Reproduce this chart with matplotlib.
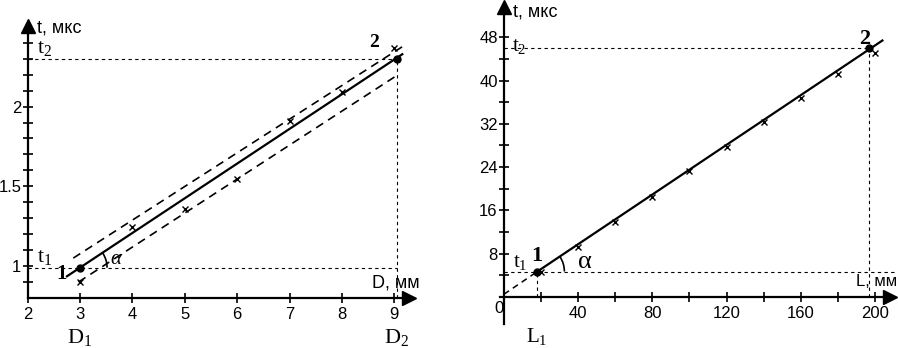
import numpy as np
import matplotlib.pyplot as plt
import matplotlib.patches as mpatches
import matplotlib.transforms as mtransforms

plt.rcParams['font.family'] = 'Liberation Sans'
plt.rcParams['mathtext.fontset'] = 'custom'
plt.rcParams['mathtext.rm'] = 'Liberation Serif'
plt.rcParams['mathtext.it'] = 'Liberation Serif:italic'
plt.rcParams['mathtext.bf'] = 'Liberation Serif:bold'

# ---- left chart: t vs D ----
d_ticks = [2, 3, 4, 5, 6, 7, 8, 9]
t_ticks_d = [0.9, 1.0, 1.1, 1.2, 1.3, 1.4, 1.5, 1.6, 1.7, 1.8, 1.9, 2.0, 2.1, 2.2, 2.3, 2.4]
t_labels_d = ['', '1', '', '', '', '', '1.5', '', '', '', '', '2', '', '', '', '']
d_meas = [3, 4, 5, 6, 7, 8, 9]
t_meas_d = [0.90, 1.245, 1.36, 1.545, 1.91, 2.09, 2.37]
d_pts = [3.0, 9.04]
t_pts_d = [0.99, 2.30]
fit_d = [2.75, 9.15]
fit_t_d = [0.936, 2.328]
upper_d = [2.87, 9.15]
upper_t = [1.05, 2.375]
lower_d = [2.97, 9.07]
lower_t = [0.90, 2.20]

# ---- right chart: t vs L ----
l_ticks = [20, 40, 60, 80, 100, 120, 140, 160, 180, 200]
l_labels = ['', '40', '', '80', '', '120', '', '160', '', '200']
t_ticks_l = [4, 8, 12, 16, 20, 24, 28, 32, 36, 40, 44, 48]
t_labels_l = ['', '8', '', '16', '', '24', '', '32', '', '40', '', '48']
l_meas = [20, 40, 60, 80, 100, 120, 140, 160, 180, 200]
t_meas_l = [4.7, 9.3, 13.8, 18.5, 23.2, 27.8, 32.4, 36.8, 41.3, 45.1]
l_pts = [18.0, 197.0]
t_pts_l = [4.7, 46.0]
fit_l = [18.0, 204.0]
fit_t_l = [4.7, 47.4]
ext_l = [0.0, 18.0]
ext_t = [0.5, 4.7]

thin = dict(color='black', lw=0.8, ls=(0, (3, 3)))
serif = 'Liberation Serif'


def setup(ax, xlim, ylim, x0, y0):
    ax.set_xlim(xlim)
    ax.set_ylim(ylim)
    ax.patch.set_visible(False)
    ax.spines[['top', 'right']].set_visible(False)
    ax.spines['left'].set_position(('data', x0))
    ax.spines['bottom'].set_position(('data', y0))
    ax.spines[['left', 'bottom']].set_linewidth(1.6)
    ax.tick_params(direction='inout', length=7, width=1.2, labelsize=12)
    ax.tick_params(axis='x', pad=3)
    ax.tick_params(axis='y', pad=1)
    # arrow heads at the axis ends
    ax.plot(1, y0, '>k', ms=10, transform=ax.get_yaxis_transform(), clip_on=False)
    ax.plot(x0, 1, '^k', ms=10, transform=ax.get_xaxis_transform(), clip_on=False)


def angle_arc(ax, x, y, x2, y2, r=27):
    p0 = ax.transData.transform((x, y))
    p1 = ax.transData.transform((x2, y2))
    ang = np.degrees(np.arctan2(p1[1] - p0[1], p1[0] - p0[0]))
    tr = mtransforms.ScaledTranslation(x, y, ax.transData)
    ax.add_patch(mpatches.Arc((0, 0), 2 * r, 2 * r, theta1=0, theta2=ang,
                              transform=tr, lw=1.2, color='black'))


fig = plt.figure(figsize=(8.98, 3.48), dpi=100)

# left panel
ax1 = fig.add_axes([0.0308, 0.1437, 0.4246, 0.7816])
setup(ax1, (2, 9.277), (0.8, 2.505), 2, 0.8)
ax1.set_xticks(d_ticks)
ax1.set_yticks(t_ticks_d)
ax1.set_yticklabels(t_labels_d)

ax1.plot([2, d_pts[1]], [t_pts_d[0], t_pts_d[0]], **thin)
ax1.plot([2, d_pts[1]], [t_pts_d[1], t_pts_d[1]], **thin)
ax1.plot([d_pts[1], d_pts[1]], [0.8, t_pts_d[1]], **thin)
ax1.plot(upper_d, upper_t, color='black', lw=1.2, ls=(0, (5, 3.5)))
ax1.plot(lower_d, lower_t, color='black', lw=1.2, ls=(0, (5, 3.5)))
ax1.plot(fit_d, fit_t_d, color='black', lw=1.6)
ax1.plot(d_meas, t_meas_d, 'x', color='black', ms=4, mew=1)
ax1.plot(d_pts, t_pts_d, 'o', color='black', ms=5)
angle_arc(ax1, d_pts[0], t_pts_d[0], d_pts[1], t_pts_d[1])

ax1.text(2.18, 2.49, 't, мкс', fontsize=13, va='center')
ax1.text(2.18, 2.37, r'$\mathrm{t}_2$', fontsize=16, va='center')
ax1.text(2.18, 1.06, r'$\mathrm{t}_1$', fontsize=16, va='center')
ax1.text(2.64, 0.956, r'$\mathbf{1}$', fontsize=15, ha='center', va='center')
ax1.text(8.61, 2.40, r'$\mathbf{2}$', fontsize=14, ha='center', va='center')
ax1.text(3.69, 1.05, r'$\alpha$', fontsize=15, ha='center', va='center')
ax1.text(8.57, 0.893, 'D, мм', fontsize=13, va='center')
ax1.text(3.0, 0.55, r'$\mathrm{D}_1$', fontsize=16, ha='center', va='center', clip_on=False)
ax1.text(9.05, 0.55, r'$\mathrm{D}_2$', fontsize=16, ha='center', va='center', clip_on=False)

# right panel
ax2 = fig.add_axes([0.5571, 0.069, 0.434, 0.911])
setup(ax2, (-2, 208.1), (-5, 53.6), 0, 0)
ax2.set_xticks(l_ticks)
ax2.set_xticklabels(l_labels)
ax2.set_yticks(t_ticks_l)
ax2.set_yticklabels(t_labels_l)

ax2.plot([0, 211], [t_pts_l[0], t_pts_l[0]], clip_on=False, **thin)
ax2.plot([0, l_pts[1]], [t_pts_l[1], t_pts_l[1]], **thin)
ax2.plot([l_pts[0], l_pts[0]], [0, t_pts_l[0]], **thin)
ax2.plot([l_pts[1], l_pts[1]], [0, t_pts_l[1]], **thin)
ax2.plot(ext_l, ext_t, color='black', lw=1.1, ls=(0, (4, 3)))
ax2.plot(fit_l, fit_t_l, color='black', lw=1.6)
ax2.plot(l_meas, t_meas_l, 'x', color='black', ms=5, mew=1)
ax2.plot(l_pts, t_pts_l, 'o', color='black', ms=5)
angle_arc(ax2, l_pts[0], t_pts_l[0], l_pts[1], t_pts_l[1])

ax2.text(4.9, 52.7, 't, мкс', fontsize=13, va='center')
ax2.text(4.3, 46.2, r'$\mathrm{t}_2$', fontsize=15, va='center')
ax2.text(4.9, 6.3, r'$\mathrm{t}_1$', fontsize=15, va='center')
ax2.text(17.8, 7.6, r'$\mathbf{1}$', fontsize=16, ha='center', va='center')
ax2.text(194.6, 47.8, r'$\mathbf{2}$', fontsize=16, ha='center', va='center')
ax2.text(43.7, 6.5, 'α', fontsize=19, family=serif, ha='center', va='center')
ax2.text(189.5, 2.8, 'L, мм', fontsize=12, va='center')
ax2.text(-2.7, -2.2, '0', fontsize=12, ha='center', va='center')
ax2.text(17.8, -7.4, r'$\mathrm{L}_1$', fontsize=15, ha='center', va='center', clip_on=False)

fig.savefig('out.png', dpi=100)
